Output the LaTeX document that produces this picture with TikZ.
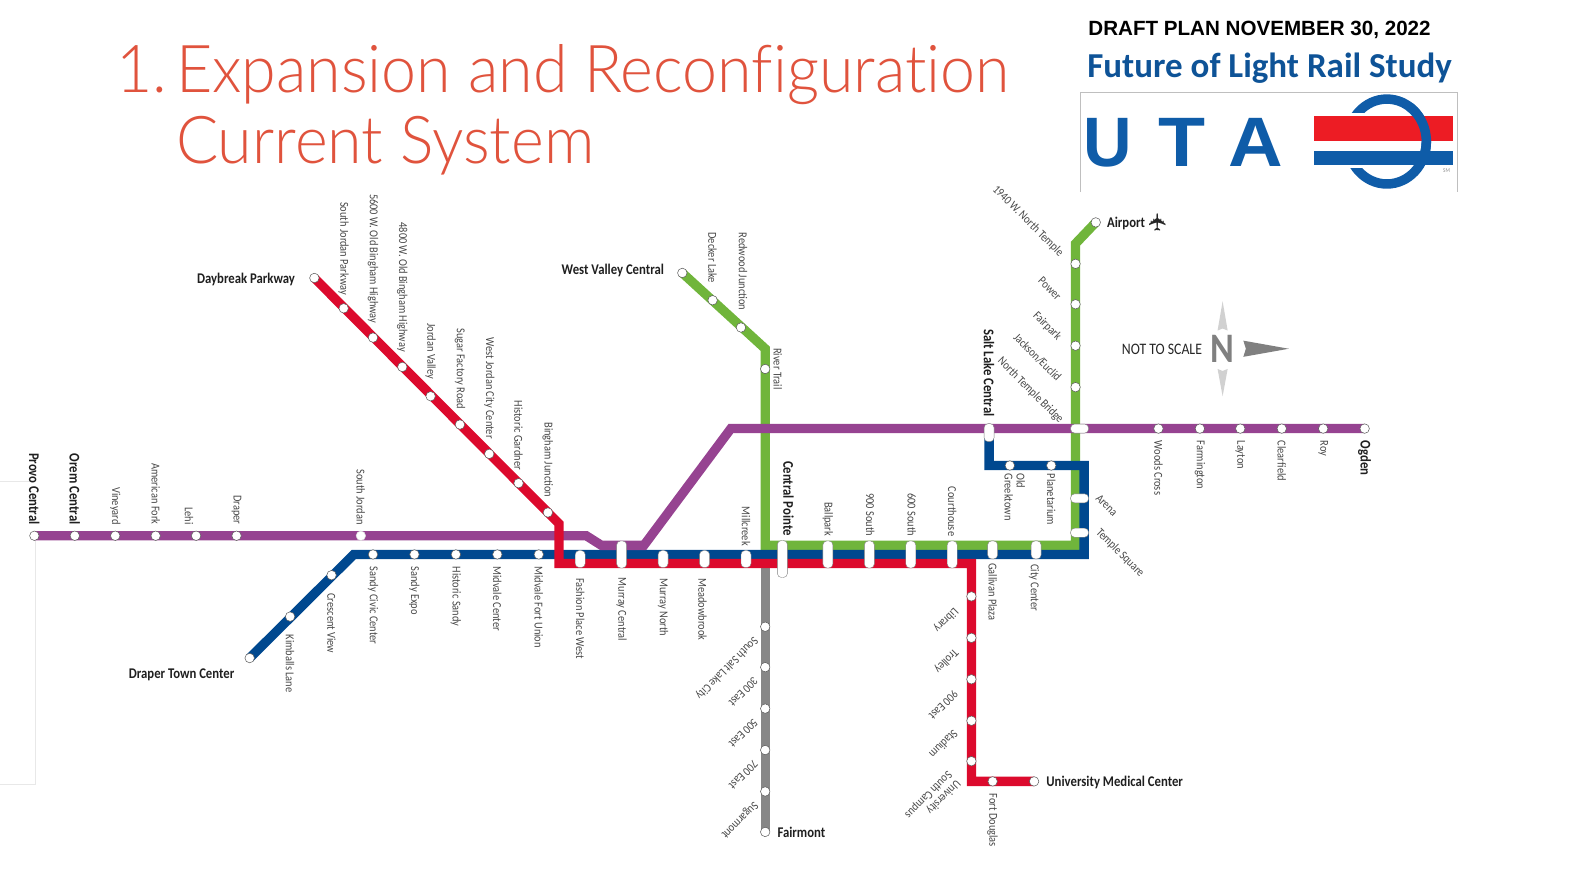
\documentclass[tikz,border=0pt]{standalone}
\usepackage{fontspec}
\usepackage{xcolor}
\setmainfont{Carlito}
\newfontfamily\mapfont{Carlito}[FakeStretch=0.86]
\newfontfamily\ttlfont{Lato Light}[FakeStretch=0.95,Ligatures=NoCommon]
\newfontfamily\draftfont{Liberation Sans}
\newfontfamily\planefont{DejaVu Sans}
\usetikzlibrary{positioning,backgrounds}
\definecolor{lnred}{HTML}{DC0A2D}
\definecolor{lnblue}{HTML}{00488F}
\definecolor{lnpurple}{HTML}{964391}
\definecolor{lngreen}{HTML}{70B53B}
\definecolor{lngray}{HTML}{878787}
\definecolor{ttlred}{HTML}{E0533D}
\definecolor{logoblue}{HTML}{0F5CA8}
\definecolor{logored}{HTML}{ED1C24}

\begin{document}
\begin{tikzpicture}[
    x=1.01084pt, y=-1.01084pt,
    stn/.style={circle, draw=black!65, fill=white, line width=0.5pt, minimum size=9.5pt, inner sep=0pt},
    hub/.style={rectangle, draw=black!50, fill=white, line width=0.4pt, rounded corners=4pt, minimum width=#1, inner sep=0pt},
    hub/.default=10pt,
    lbl/.style={font=\mapfont\fontsize{12.1}{12.1}\selectfont, text=black!72, inner sep=0pt, align=left},
    bld/.style={font=\mapfont\bfseries\fontsize{14.8}{14.8}\selectfont, text=black!88, inner sep=0pt},
    lup/.style={lbl, rotate=-90, anchor=east},
    ldn/.style={lbl, rotate=-90, anchor=west},
    bup/.style={bld, rotate=-90, anchor=east},
    rdiag/.style={lbl, rotate=-45, anchor=west},
    ldiag/.style={lbl, rotate=-45, anchor=east},
    bdiag/.style={lbl, rotate=225, anchor=west},
    trk/.style={line width=9.3pt},
    ttl/.style={font=\ttlfont\fontsize{66}{66}\selectfont, text=ttlred, inner sep=0pt, anchor=base west},
    uta/.style={font=\draftfont\bfseries\fontsize{70}{70}\selectfont, text=logoblue, inner sep=0pt, anchor=base},
    faint/.style={draw=black!9, line width=0.5pt}
]
    \useasboundingbox (0,0) rectangle (1568,883);

    % Title and logo
    \node[ttl] (title0) at (115,92) {1.};
    \node[ttl] (title1) at (174,92) {Expansion and Reconfiguration};
    \node[ttl] (title2) at (174,162) {Current System};
    \node[font=\draftfont\bfseries\fontsize{20.6}{20.6}\selectfont, inner sep=0pt] (draft) at (1246,30) {DRAFT PLAN NOVEMBER 30, 2022};
    \node[font=\bfseries\fontsize{35}{35}\selectfont, text=logoblue!90!black, inner sep=0pt] (study) at (1256,67) {Future of Light Rail Study};
    \draw[faint, draw=black!25] (1069,190) -- (1069,91) -- (1442,91) -- (1442,190);
    \node[uta, xscale=0.96] (logoU) at (1096,165) {U};
    \node[uta, xscale=1.1] (logoT) at (1169.5,165) {T};
    \node[uta, xscale=1.08] (logoA) at (1242,165) {A};
    \draw[logoblue, line width=9.5pt] (1372,140) ellipse (39 and 42);
    \fill[white] (1320,112) rectangle (1372,166);
    \fill[logored] (1300,114.7) rectangle (1437.5,139.5);
    \fill[logoblue] (1300,149.4) rectangle (1437.5,163.7);
    \draw[logoblue, line width=9.5pt] (1394.4,105.6) arc (-55:20:39 and 42);
    \node[font=\mapfont\fontsize{6}{6}\selectfont, text=black!45, inner sep=0pt] (logoSM) at (1431,169) {SM};

    % Faint page lines
    \draw[faint] (0,476) -- (30,476);
    \draw[faint] (35,535) -- (35,776) -- (0,776);

    % Purple line stations
    \node[stn] (provo) at (34,530) {};
    \node[stn] (orem) at (74,530) {};
    \node[stn] (vineyard) at (114,530) {};
    \node[stn] (amfork) at (154,530) {};
    \node[stn] (lehi) at (194,530) {};
    \node[stn] (draper) at (234,530) {};
    \node[stn, draw=black!15] (sjordan) at (357,530) {};
    \coordinate (pbend1) at (580,530);
    \coordinate (pbend2) at (595,539.5);
    \coordinate (pbend3) at (637,539.5);
    \coordinate (pbend4) at (723,424);
    \node[stn] (woods) at (1146,424) {};
    \node[stn] (farm) at (1187,424) {};
    \node[stn] (layton) at (1227,424) {};
    \node[stn] (clear) at (1268,424) {};
    \node[stn] (roy) at (1309,424) {};
    \node[stn] (ogden) at (1350,424) {};

    \node[above=11pt of provo.center, bup] (provoL) {Provo Central};
    \node[above=11pt of orem.center, bup] (oremL) {Orem Central};
    \node[above=11pt of vineyard.center, lup] (vineyardL) {Vineyard};
    \node[above=11pt of amfork.center, lup] (amforkL) {American Fork};
    \node[above=11pt of lehi.center, xshift=-7pt, lup] (lehiL) {Lehi};
    \node[above=11pt of draper.center, lup] (draperL) {Draper};
    \node[above=11pt of sjordan.center, lup] (sjordanL) {South Jordan};
    \node[below=12pt of woods.center, ldn] (woodsL) {Woods Cross};
    \node[below=12pt of farm.center, ldn] (farmL) {Farmington};
    \node[below=12pt of layton.center, ldn] (laytonL) {Layton};
    \node[below=12pt of clear.center, ldn] (clearL) {Clearfield};
    \node[below=12pt of roy.center, ldn] (royL) {Roy};
    \node[below=12pt of ogden.center, bld, rotate=-90, anchor=west] (ogdenL) {Ogden};

    % Blue line stations
    \node[stn] (drapertc) at (247,651) {};
    \node[stn] (kimballs) at (287,610) {};
    \node[stn] (crescent) at (328,569) {};
    \coordinate (bbend1) at (350,548.5);
    \node[stn] (civic) at (369,548.5) {};
    \node[stn] (expo) at (410,548.5) {};
    \node[stn] (hist) at (451,548.5) {};
    \node[stn] (midc) at (492,548.5) {};
    \node[stn] (midf) at (533,548.5) {};
    \coordinate (bbend2) at (1072.5,548.5);
    \coordinate (bbend3) at (1072.5,460.5);
    \coordinate (bbend4) at (978.5,460.5);
    \node[stn] (greek) at (999,460.5) {};
    \node[stn] (planet) at (1040,460.5) {};

    \node[bld, anchor=north east] (drapertcL) at (232,661) {Draper Town Center};
    \node[below=18pt of kimballs.center, ldn] (kimballsL) {Kimballs Lane};
    \node[below=18pt of crescent.center, ldn] (crescentL) {Crescent View};
    \node[below=12pt of civic.center, ldn] (civicL) {Sandy Civic Center};
    \node[below=12pt of expo.center, ldn] (expoL) {Sandy Expo};
    \node[below=12pt of hist.center, ldn] (histL) {Historic Sandy};
    \node[below=12pt of midc.center, ldn] (midcL) {Midvale Center};
    \node[below=12pt of midf.center, ldn] (midfL) {Midvale Fort Union};
    \node[below=8pt of greek.center, xshift=5pt, ldn] (greekL) {Old\\Greektown};
    \node[below=8pt of planet.center, ldn] (planetL) {Planetarium};

    % Red line stations
    \node[stn] (daybreak) at (311,275) {};
    \node[stn] (sjpark) at (340,305) {};
    \node[stn] (w5600) at (369,334) {};
    \node[stn] (w4800) at (398,363) {};
    \node[stn] (jvalley) at (426,392) {};
    \node[stn] (sugar) at (455,420) {};
    \node[stn] (wjordan) at (484,449) {};
    \node[stn] (gardner) at (513,478) {};
    \node[stn] (bingham) at (542,507) {};
    \coordinate (rbend1) at (553,518);
    \coordinate (rbend2) at (553,557.5);
    \coordinate (rbend3) at (961,557.5);
    \node[stn] (library) at (961,590) {};
    \node[stn] (trolley) at (961,631) {};
    \node[stn] (e900) at (961,672) {};
    \node[stn] (stadium) at (961,713) {};
    \node[stn] (ucampus) at (961,753) {};
    \coordinate (rbend4) at (961,773);
    \node[stn] (fort) at (982,773) {};
    \node[stn] (umc) at (1023,773) {};

    \node[bld, anchor=east] (daybreakL) at (292,276) {Daybreak Parkway};
    \node[above=13pt of sjpark.center, lup] (sjparkL) {South Jordan Parkway};
    \node[above=14pt of w5600.center, lup] (w5600L) {5600 W. Old Bingham Highway};
    \node[above=15pt of w4800.center, lup] (w4800L) {4800 W. Old Bingham Highway};
    \node[above=17pt of jvalley.center, lup] (jvalleyL) {Jordan Valley};
    \node[above=15pt of sugar.center, lup] (sugarL) {Sugar Factory Road};
    \node[above=15pt of wjordan.center, lup] (wjordanL) {West Jordan City Center};
    \node[above=13pt of gardner.center, lup] (gardnerL) {Historic Gardner};
    \node[above=15pt of bingham.center, lup] (binghamL) {Bingham Junction};
    \node[bdiag] (libraryL) at (946,603) {Library};
    \node[bdiag] (trolleyL) at (946,644) {Trolley};
    \node[bdiag] (e900L) at (946,685) {900 East};
    \node[bdiag] (stadiumL) at (946,724) {Stadium};
    \node[bdiag] (ucampusL) at (944,769) {University\\South Campus};
    \node[below=12pt of fort.center, ldn] (fortL) {Fort Douglas};
    \node[bld, anchor=west] (umcL) at (1035,774) {University Medical Center};

    % Green line stations
    \node[stn] (westv) at (675,270) {};
    \node[stn] (decker) at (705,297) {};
    \node[stn] (redwood) at (733,324) {};
    \coordinate (gbend1) at (757,345);
    \node[stn] (river) at (757,365) {};
    \coordinate (gbend2) at (757,539.5);
    \coordinate (gbend3) at (1064,539.5);
    \node[stn] (nbridge) at (1064,383) {};
    \node[stn] (jackson) at (1064,342) {};
    \node[stn] (fairpark) at (1064,301) {};
    \node[stn] (power) at (1064,261) {};
    \coordinate (gbend4) at (1064,241);
    \node[stn] (airport) at (1084,220) {};

    \node[bld, anchor=east] (westvL) at (657,268) {West Valley Central};
    \node[above=17pt of decker.center, lup] (deckerL) {Decker Lake};
    \node[above=17pt of redwood.center, xshift=2pt, lup] (redwoodL) {Redwood Junction};
    \node[right=8pt of river.center, lbl, rotate=-90, anchor=south] (riverL) {River Trail};
    \node[bld, anchor=west] (airportL) at (1095,221) {Airport};
    \node[font=\planefont\fontsize{24}{24}\selectfont, text=black!85, inner sep=0pt, rotate=90] (plane) at (1146,220) {✈};
    \node[ldiag] (powerL) at (1050,252) {1940 W. North Temple};
    \node[ldiag] (fairparkL) at (1048,295) {Power};
    \node[ldiag] (jacksonL) at (1048,335) {Fairpark};
    \node[ldiag] (nbridgeL) at (1048,375) {Jackson/Euclid};
    \node[ldiag] (bridgeL) at (1050,417) {North Temple Bridge};
    \node[rdiag] (arenaL) at (1086,491) {Arena};
    \node[rdiag] (templeL) at (1086,525) {Temple Square};

    % Gray line stations
    \coordinate (gytop) at (757,561);
    \node[stn] (ssl) at (757,620) {};
    \node[stn] (e300) at (757,660) {};
    \node[stn] (e500) at (757,701) {};
    \node[stn] (e700) at (757,742) {};
    \node[stn] (sugarm) at (757,783) {};
    \node[stn] (fairmont) at (757,823) {};

    \node[bdiag] (sslL) at (748,632) {South Salt Lake City};
    \node[bdiag] (e300L) at (748,672) {300 East};
    \node[bdiag] (e500L) at (748,713) {500 East};
    \node[bdiag] (e700L) at (748,754) {700 East};
    \node[bdiag] (sugarmL) at (748,795) {Sugarmont};
    \node[bld, anchor=west] (fairmontL) at (769,823) {Fairmont};

    % Shared stations
    \node[hub, minimum height=18pt] (slc) at (978.5,428) {};
    \node[hub=18pt, minimum height=9pt] (nt) at (1068,424) {};
    \node[hub=18pt, minimum height=9pt] (arena) at (1068,493) {};
    \node[hub=18pt, minimum height=9pt] (temple) at (1068,527) {};
    \node[hub, minimum height=17pt] (fashion) at (574,553) {};
    \node[hub, minimum height=27pt] (murray) at (615,548.5) {};
    \node[hub, minimum height=17pt] (mnorth) at (656,553) {};
    \node[hub, minimum height=17pt] (meadow) at (697,553) {};
    \node[hub, minimum height=17pt] (millcreek) at (738,553) {};
    \node[hub, minimum height=37pt] (central) at (774,553) {};
    \node[hub, minimum height=27pt] (ballpark) at (819,548.5) {};
    \node[hub, minimum height=27pt] (s900) at (860,548.5) {};
    \node[hub, minimum height=27pt] (s600) at (901,548.5) {};
    \node[hub, minimum height=27pt] (court) at (942,548.5) {};
    \node[hub, minimum height=18pt] (gallivan) at (982,544) {};
    \node[hub, minimum height=18pt] (city) at (1025,544) {};

    \node[above=16pt of slc.center, bup] (slcL) {Salt Lake Central};
    \node[below=19pt of fashion.center, ldn] (fashionL) {Fashion Place West};
    \node[below=23pt of murray.center, ldn] (murrayL) {Murray Central};
    \node[below=19pt of mnorth.center, ldn] (mnorthL) {Murray North};
    \node[below=19pt of meadow.center, xshift=-2pt, ldn] (meadowL) {Meadowbrook};
    \node[above=13pt of millcreek.center, lup] (millcreekL) {Millcreek};
    \node[above=23pt of central.center, xshift=6pt, bup] (centralL) {Central Pointe};
    \node[above=18pt of ballpark.center, lup] (ballparkL) {Ballpark};
    \node[above=18pt of s900.center, xshift=1pt, lup] (s900L) {900 South};
    \node[above=18pt of s600.center, xshift=1pt, lup] (s600L) {600 South};
    \node[above=18pt of court.center, lup] (courtL) {Courthouse};
    \node[below=13pt of gallivan.center, ldn] (gallivanL) {Gallivan Plaza};
    \node[below=14pt of city.center, xshift=-2pt, ldn] (cityL) {City Center};

    % Compass
    \node[font=\mapfont\fontsize{16}{16}\selectfont, text=black!85, inner sep=0pt] (scale) at (1149.5,346) {NOT TO SCALE};
    \node[font=\mapfont\bfseries\fontsize{42}{42}\selectfont, text=black!50, inner sep=0pt] (north) at (1209.5,345) {N};
    \fill[black!50] (1230,337) -- (1232.5,345) -- (1230,353) -- (1275,345) -- cycle;
    \fill[black!18] (1209.5,298) -- (1214.5,327) -- (1209.5,325) -- (1204.5,327) -- cycle;
    \fill[black!18] (1209.5,392) -- (1214.5,365) -- (1209.5,367) -- (1204.5,365) -- cycle;

    % Lines
    \begin{scope}[on background layer]
        \draw[trk, lngray] (gytop) -- (fairmont.center);
        \draw[trk, lngreen] (westv.center) -- (gbend1) -- (gbend2) -- (gbend3) -- (gbend4) -- (airport.center);
        \draw[trk, lnblue] (drapertc.center) -- (bbend1) -- (bbend2) -- (bbend3) -- (bbend4) -- (slc.center);
        \draw[trk, lnpurple] (provo.center) -- (pbend1) -- (pbend2) -- (pbend3) -- (pbend4) -- (ogden.center);
        \draw[trk, lnred] (daybreak.center) -- (rbend1) -- (rbend2) -- (rbend3) -- (rbend4) -- (umc.center);
    \end{scope}
\end{tikzpicture}
\end{document}
